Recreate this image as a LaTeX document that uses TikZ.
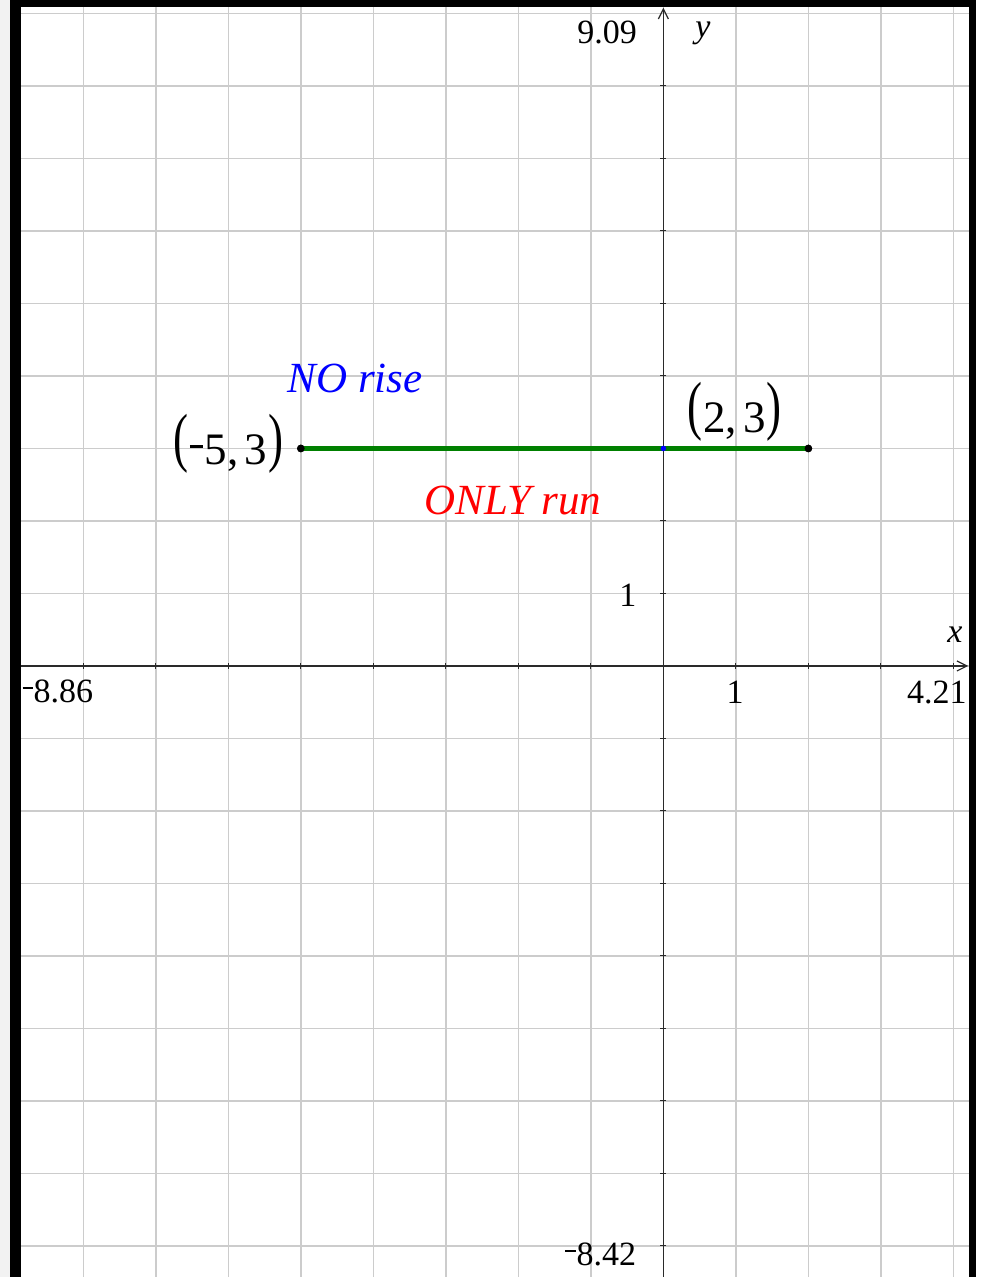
\documentclass[tikz,border=0pt]{standalone}
\usepackage{fontspec}
\setmainfont{Liberation Serif}
\usetikzlibrary{arrows.meta}
\definecolor{gridc}{HTML}{CCCCCC}
\definecolor{axisc}{HTML}{2A2A2A}
\definecolor{segc}{HTML}{008000}
\definecolor{blueT}{HTML}{0000FF}
\definecolor{redT}{HTML}{FF0000}
\newcommand\tineg{\rule[0.38em]{0.3em}{0.06em}\kern0.03em}
\newcommand\bigparL{\raisebox{2.5pt}{\scalebox{1}[1.45]{(}}\kern0.5pt}
\newcommand\bigparR{\kern0.5pt\raisebox{2.5pt}{\scalebox{1}[1.45]{)}}}
\begin{document}
\begin{tikzpicture}[x=36.25pt,y=36.25pt,
  gridline/.style={draw=gridc,line width=0.75pt},
  axisline/.style={draw=axisc,line width=0.6pt,-{Straight Barb[length=5pt,width=5pt]}},
  tickmark/.style={draw=axisc,line width=0.5pt},
  lbl/.style={inner sep=0pt,font=\fontsize{17}{20}\selectfont},
  axlbl/.style={inner sep=0pt,font=\fontsize{17}{20}\selectfont\itshape},
  ptlbl/.style={inner sep=0pt,font=\fontsize{22.5}{26}\selectfont},
  note/.style={inner sep=0pt,font=\fontsize{21.5}{26}\selectfont\itshape},
  dot/.style={circle,fill=black,inner sep=0pt,minimum size=3.8pt},
  bdot/.style={circle,fill=blueT,inner sep=0pt,minimum size=2.8pt},
  seg/.style={draw=segc,line width=2.2pt},
  border/.style={fill=black}]
\useasboundingbox (-9.150,-8.428) rectangle (4.394,9.186);
\fill[white] (-9.150,-8.428) rectangle (4.394,9.186);
\fill[gray!10] (-9.150,-8.428) rectangle (-9.012,9.186);
% grid
\foreach \i in {-8,...,4} \draw[gridline] (\i,-8.428) -- (\i,9.09);
\foreach \j in {-8,...,9} \draw[gridline] (-8.86,\j) -- (4.21,\j);
% axes
\coordinate (xs) at (-8.86,0);
\coordinate (xe) at (4.205,0);
\coordinate (ys) at (0,-8.428);
\coordinate (ye) at (0,9.08);
\draw[axisline] (xs) -- (xe);
\draw[axisline] (ys) -- (ye);
\foreach \i in {-8,...,-1,1,2,3,4} \draw[tickmark] (\i,-0.04) -- (\i,0.04);
\foreach \j in {-8,...,-1,1,2,...,8} \draw[tickmark] (-0.04,\j) -- (0.04,\j);
% segment
\node[dot] (A) at (-5,3) {};
\node[dot] (B) at (2,3) {};
\draw[seg] (A.center) -- (B.center);
\node[dot] at (A.center) {};
\node[dot] at (B.center) {};
\node[bdot] (C) at (0,3) {};
% axis labels
\node[lbl,anchor=east] (ymax) at (-0.36,8.745) {9.09};
\node[lbl,anchor=east] (ymin) at (-0.37,-8.11) {\tineg8.42};
\node[lbl,anchor=west] (xmin) at (-8.845,-0.345) {\tineg8.86};
\node[lbl,anchor=east] (xmax) at (4.19,-0.36) {4.21};
\node[lbl] (xone) at (0.99,-0.36) {1};
\node[lbl] (yone) at (-0.488,0.98) {1};
\node[axlbl] (ylab) at (0.546,8.73) {y};
\node[axlbl] (xlab) at (4.02,0.43) {x};
% point labels
\node[ptlbl,anchor=east] (Alab) at (-5.24,3.06) {\bigparL\tineg5,\kern3pt3\bigparR};
\node[ptlbl] (Blab) at (0.98,3.50) {\bigparL2,\kern3pt3\bigparR};
\node[note,text=blueT] (rise) at (-4.25,3.96) {NO rise};
\node[note,text=redT] (run) at (-2.075,2.28) {ONLY run};
% borders
\fill[border] (-9.012,-8.428) rectangle (-8.86,9.186);
\fill[border] (-9.012,9.09) rectangle (4.312,9.186);
\fill[border] (4.214,-8.428) rectangle (4.312,9.186);
\end{tikzpicture}
\end{document}
